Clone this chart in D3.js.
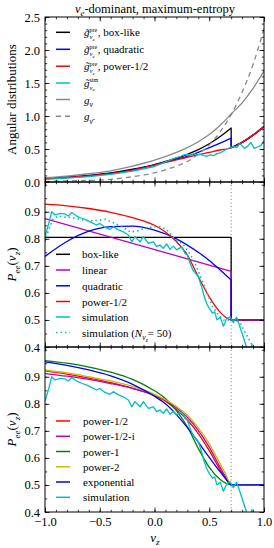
<!DOCTYPE html>
<html>
<head>
<meta charset="utf-8">
<script src="https://cdn.jsdelivr.net/npm/d3@7"></script>
<style>
  body { margin: 0; background: #fff; }
  svg { display: block; }
  text { font-family: "Liberation Serif", "DejaVu Serif", serif; fill: #000; }
</style>
</head>
<body>
<div id="chart"></div>
<script>
// ---- tick values ----
const xMajor = [-1.0, -0.5, 0.0, 0.5, 1.0];
const xMinor = d3.range(-10, 11).map(i => i / 10);
const angMajor = [0.0, 0.5, 1.0, 1.5, 2.0, 2.5];
const angMinor = d3.range(0, 26).map(i => i / 10);
const peeMajor = [0.4, 0.5, 0.6, 0.7, 0.8, 0.9];
const peeMinor = d3.range(8, 21).map(i => i / 20);

// ---- panel 1: angular distributions ----
const vAng   = [-1.0, -0.8, -0.6, -0.4, -0.2, 0.0, 0.2, 0.3, 0.4, 0.5, 0.6, 0.7, 0.8, 0.9, 1.0];
const gNu    = [0.065, 0.09, 0.125, 0.17, 0.24, 0.33, 0.45, 0.52, 0.61, 0.72, 0.86, 1.03, 1.2, 1.42, 1.68];
const gNuBar = [0.01, 0.015, 0.025, 0.04, 0.08, 0.14, 0.24, 0.31, 0.42, 0.56, 0.76, 1.02, 1.36, 1.78, 2.32];
const preP12 = [0.05, 0.068, 0.093, 0.128, 0.18, 0.255, 0.335, 0.375, 0.415, 0.45, 0.485, 0.515, 0.6, 0.71, 0.84];
const vBox   = [-1.0, -0.8, -0.6, -0.4, -0.2, 0.0, 0.2, 0.3, 0.4, 0.5, 0.6, 0.7, 0.7, 0.8, 0.9, 1.0];
const preBox = [0.052, 0.072, 0.1, 0.137, 0.193, 0.265, 0.36, 0.42, 0.49, 0.58, 0.69, 0.82, 0.52, 0.6, 0.71, 0.84];
const preQuad = [0.05, 0.07, 0.095, 0.13, 0.185, 0.26, 0.345, 0.39, 0.45, 0.52, 0.59, 0.665, 0.52, 0.6, 0.71, 0.84];
const vSimAng = [-1.0, -0.8, -0.6, -0.4, -0.2, 0.0, 0.08, 0.16, 0.2, 0.24, 0.27, 0.3, 0.33, 0.36, 0.39, 0.42,
                 0.45, 0.48, 0.51, 0.54, 0.57, 0.6, 0.63, 0.66, 0.69, 0.72, 0.75, 0.78, 0.8, 0.82, 0.85, 0.88,
                 0.91, 0.94, 0.97, 1.0];
const simAng  = [0.04, 0.058, 0.08, 0.115, 0.165, 0.235, 0.29, 0.345, 0.37, 0.39, 0.41, 0.42, 0.4, 0.43, 0.41, 0.42,
                 0.4, 0.39, 0.41, 0.4, 0.43, 0.44, 0.47, 0.5, 0.52, 0.54, 0.52, 0.58, 0.55, 0.51, 0.54, 0.6,
                 0.51, 0.53, 0.55, 0.62];

// ---- panel 2 / 3: survival probability ----
const crossV = [0.7, 0.7];
const vLin = [-1.0, 0.7, 0.7, 1.0];
const pLinear = [0.875, 0.68, 0.5, 0.5];
const vBoxP = [-1.0, 0.7, 0.7, 1.0];
const pBox = [0.805, 0.805, 0.5, 0.5];
const vQuad = [-1.0, -0.8, -0.6, -0.4, -0.2, 0.0, 0.2, 0.4, 0.5, 0.6, 0.7, 0.7, 1.0];
const pQuad = [0.735, 0.79, 0.828, 0.845, 0.847, 0.832, 0.8, 0.75, 0.72, 0.685, 0.648, 0.5, 0.5];
const vFit = [-1.0, -0.8, -0.6, -0.4, -0.2, 0.0, 0.1, 0.2, 0.3, 0.4, 0.5, 0.6, 0.65, 0.7, 1.0];
const pP12a = [0.928, 0.922, 0.912, 0.898, 0.878, 0.85, 0.825, 0.79, 0.74, 0.66, 0.585, 0.528, 0.51, 0.5, 0.5];
const pP12  = [0.922, 0.91, 0.895, 0.878, 0.857, 0.83, 0.81, 0.778, 0.74, 0.69, 0.627, 0.556, 0.525, 0.5, 0.5];
const pP12i = [0.912, 0.902, 0.89, 0.875, 0.857, 0.832, 0.814, 0.785, 0.75, 0.702, 0.64, 0.565, 0.53, 0.5, 0.5];
const pP1   = [0.96, 0.95, 0.936, 0.917, 0.89, 0.848, 0.82, 0.775, 0.715, 0.635, 0.565, 0.52, 0.507, 0.5, 0.5];
const pP2   = [0.925, 0.914, 0.9, 0.885, 0.864, 0.835, 0.815, 0.79, 0.758, 0.712, 0.652, 0.578, 0.54, 0.5, 0.5];
const pExp  = [0.955, 0.942, 0.925, 0.903, 0.872, 0.828, 0.8, 0.76, 0.712, 0.658, 0.602, 0.548, 0.523, 0.5, 0.5];

const vSim = [-1.0, -0.985, -0.96, -0.939, -0.909, -0.863, -0.817, -0.787, -0.756, -0.711, -0.665, -0.619,
              -0.574, -0.528, -0.498, -0.452, -0.406, -0.376, -0.33, -0.285, -0.239, -0.208, -0.178, -0.132,
              -0.102, -0.056, -0.011, 0.02, 0.05, 0.08, 0.111, 0.142, 0.172, 0.202, 0.248, 0.279, 0.3, 0.32,
              0.35, 0.38, 0.4, 0.43, 0.45, 0.477, 0.5, 0.53, 0.55, 0.57, 0.6, 0.63, 0.66, 0.69, 0.72, 0.75,
              0.78, 0.81, 0.84, 0.87, 0.89, 0.9, 0.95, 1.0];
const pSim = [0.81, 0.83, 0.865, 0.9, 0.888, 0.894, 0.892, 0.884, 0.897, 0.884, 0.876, 0.869,
              0.86, 0.851, 0.857, 0.842, 0.835, 0.845, 0.833, 0.826, 0.814, 0.789, 0.808, 0.789,
              0.808, 0.783, 0.789, 0.771, 0.777, 0.765, 0.781, 0.761, 0.773, 0.759, 0.77, 0.746, 0.74, 0.715,
              0.685, 0.67, 0.66, 0.623, 0.592, 0.56, 0.543, 0.525, 0.53, 0.5, 0.51, 0.477, 0.505, 0.512, 0.49, 0.51,
              0.475, 0.438, 0.4, 0.36, 0.41, 0.38, 0.3, 0.3];
const vSim50 = [-1.0, -0.97, -0.93, -0.88, -0.82, -0.75, -0.68, -0.6, -0.52, -0.45, -0.38, -0.3, -0.22, -0.15,
                -0.08, 0.0, 0.06, 0.12, 0.18, 0.23, 0.28, 0.33, 0.38, 0.43, 0.48, 0.53, 0.58, 0.63, 0.68,
                0.73, 0.78, 0.82, 0.86, 0.9];
const pSim50 = [0.79, 0.83, 0.87, 0.885, 0.88, 0.878, 0.872, 0.866, 0.868, 0.872, 0.86, 0.845, 0.825, 0.83,
                0.84, 0.845, 0.845, 0.83, 0.8, 0.79, 0.77, 0.74, 0.7, 0.65, 0.6, 0.55, 0.52, 0.5, 0.5,
                0.5, 0.49, 0.46, 0.43, 0.4];

// ---- layout ----
const width = 274, height = 548;
const margin = {left: 45, right: 10};
const panels = [{top: 17, bottom: 182}, {top: 182, bottom: 347}, {top: 347, bottom: 512}];
const serif = '"Liberation Serif", "DejaVu Serif", serif';

const svg = d3.select('#chart').append('svg')
  .attr('width', width).attr('height', height);

const xscale = d3.scaleLinear().domain([-1, 1]).range([margin.left, width - margin.right]);
const yAng = d3.scaleLinear().domain([0, 2.5]).range([panels[0].bottom, panels[0].top]);
const yP2 = d3.scaleLinear().domain([0.4, 1.01]).range([panels[1].bottom, panels[1].top]);
const yP3 = d3.scaleLinear().domain([0.4, 1.01]).range([panels[2].bottom, panels[2].top]);

const zip = (xs, ys) => xs.map((x, i) => [x, ys[i]]);

// split into runs of increasing x, smooth each run, join with straight segments
function drawLine(g, y, xs, ys, color, opts = {}) {
  const pts = zip(xs, ys);
  const runs = [[pts[0]]];
  for (let i = 1; i < pts.length; i++) {
    if (pts[i][0] <= pts[i - 1][0]) runs.push([pts[i]]);
    else runs[runs.length - 1].push(pts[i]);
  }
  const line = d3.line().x(d => xscale(d[0])).y(d => y(d[1]))
    .curve(opts.linear ? d3.curveLinear : d3.curveMonotoneX);
  const d = runs.map((r, i) => {
    let s = r.length > 1 ? line(r) : 'M' + xscale(r[0][0]) + ',' + y(r[0][1]);
    return i ? 'L' + s.slice(1) : s;
  }).join('');
  return g.append('path').attr('d', d)
    .attr('fill', 'none').attr('stroke', color)
    .attr('stroke-width', opts.width || 1.3)
    .attr('stroke-dasharray', opts.dash || null)
    .attr('stroke-linejoin', 'round');
}

// rich text: italic parts, subscripts, stacked super/sub
function rich(g, x, y, parts, fs) {
  let cx = x;
  function put(p, px, py, s) {
    const t = g.append('text').attr('x', px).attr('y', py)
      .style('font-family', serif)
      .style('font-size', s + 'px').style('font-style', p.it ? 'italic' : 'normal');
    t.append('tspan').text(p.t);
    if (p.sub2) t.append('tspan').attr('dy', s * 0.25).style('font-size', (s * 0.7) + 'px')
      .style('font-style', 'italic').text(p.sub2);
    return t.node().getComputedTextLength();
  }
  parts.forEach(p => {
    if (p.stack) {
      const a = put(p.stack[0], cx, y - fs * 0.42, fs * 0.55);
      const b = put(p.stack[1], cx, y + fs * 0.25, fs * 0.6);
      cx += Math.max(a, b) + 0.5;
    } else if (p.sub) {
      cx += put(p, cx, y + fs * 0.3, fs * 0.7);
    } else {
      cx += put(p, cx, y, fs);
    }
  });
  return cx - x;
}

function frame(i, y, majorY, minorY, showX) {
  const p = panels[i];
  const g = svg.append('g');
  const fmt = d3.format('.1f');
  const none = () => '';
  const x0 = margin.left, x1 = width - margin.right;
  const axes = [
    [() => d3.axisBottom(xscale), `translate(0,${p.bottom})`, xMinor, xMajor, showX ? fmt : none, 5.5],
    [() => d3.axisTop(xscale), `translate(0,${p.top})`, xMinor, xMajor, none, 5],
    [() => d3.axisLeft(y), `translate(${x0},0)`, minorY, majorY, fmt, 5],
    [() => d3.axisRight(y), `translate(${x1},0)`, minorY, majorY, none, 5]
  ];
  axes.forEach(([mkAxis, tr, mn, mj, tf, pad]) => {
    const gMin = g.append('g').attr('transform', tr)
      .call(mkAxis().tickValues(mn).tickSize(-2.2).tickFormat(none));
    const gMaj = g.append('g').attr('transform', tr)
      .call(mkAxis().tickValues(mj).tickSize(-4.5).tickPadding(pad).tickFormat(tf));
    [gMin, gMaj].forEach(a => {
      a.attr('font-family', null);
      a.select('.domain').remove();
      a.selectAll('line').attr('stroke', '#000').attr('stroke-width', 0.8);
      a.selectAll('text').style('font-size', '12.5px').attr('fill', '#000')
        .style('font-family', serif);
    });
  });
  g.append('rect').attr('x', x0).attr('y', p.top).attr('width', x1 - x0).attr('height', p.bottom - p.top)
    .attr('fill', 'none').attr('stroke', '#000').attr('stroke-width', 1);
}

function clipped(i, id) {
  const p = panels[i];
  svg.append('clipPath').attr('id', id).append('rect')
    .attr('x', margin.left).attr('y', p.top)
    .attr('width', width - margin.left - margin.right).attr('height', p.bottom - p.top);
  return svg.append('g').attr('clip-path', `url(#${id})`);
}

function legendRow(g, yc, color, dash, parts, tx) {
  g.append('line').attr('x1', 56).attr('x2', 70).attr('y1', yc).attr('y2', yc)
    .attr('stroke', color).attr('stroke-width', 1.5).attr('stroke-dasharray', dash || null);
  rich(g, tx, yc + 4, parts, 11);
}

const C = {black: '#000000', blue: '#0000ff', red: '#ff0000', cyan: '#00bfbf', mag: '#bf00bf',
           green: '#008000', yellow: '#bfbf00', gray: '#888888'};

// ---- panel 1 ----
const g1 = clipped(0, 'c1');
drawLine(g1, yAng, vBox, preBox, C.black);
drawLine(g1, yAng, vBox, preQuad, C.blue);
drawLine(g1, yAng, vAng, preP12, C.red);
drawLine(g1, yAng, vSimAng, simAng, C.cyan, {linear: true});
drawLine(g1, yAng, vAng, gNu, C.gray);
drawLine(g1, yAng, vAng, gNuBar, C.gray, {dash: '5,4'});
frame(0, yAng, angMajor, angMinor, false);

const gt = '\u0067\u0303';
const preSub = {stack: [{t: 'pre'}, {t: '\u03bd', it: true, sub2: 'e'}]};
const L1 = svg.append('g');
legendRow(L1, 32.3, C.black, null, [{t: gt, it: true}, preSub, {t: ', box-like'}], 84);
legendRow(L1, 49.3, C.blue, null, [{t: gt, it: true}, preSub, {t: ', quadratic'}], 84);
legendRow(L1, 66.2, C.red, null, [{t: gt, it: true}, preSub, {t: ', power-1/2'}], 84);
legendRow(L1, 83, C.cyan, null, [{t: gt, it: true}, {stack: [{t: 'sim'}, {t: '\u03bd', it: true, sub2: 'e'}]}], 84);
legendRow(L1, 99.5, C.gray, null, [{t: 'g', it: true}, {t: '\u03bd', it: true, sub: true}], 84);
legendRow(L1, 116.2, C.gray, '5,4', [{t: 'g', it: true}, {t: '\u03bd\u0304', it: true, sub: true}], 84);

// ---- panel 2 ----
const g2 = clipped(1, 'c2');
g2.append('path').attr('d', d3.line().x(d => xscale(d[0])).y(d => yP2(d[1]))(zip(crossV, yP2.domain())))
  .attr('stroke', '#555').attr('stroke-width', 0.8).attr('stroke-dasharray', '1,2.5');
drawLine(g2, yP2, vBoxP, pBox, C.black, {linear: true});
drawLine(g2, yP2, vLin, pLinear, C.mag, {linear: true});
drawLine(g2, yP2, vQuad, pQuad, C.blue);
drawLine(g2, yP2, vFit, pP12a, C.red);
drawLine(g2, yP2, vSim, pSim, C.cyan, {linear: true});
drawLine(g2, yP2, vSim50, pSim50, C.cyan, {linear: true, dash: '1.5,3', width: 1.6});
frame(1, yP2, peeMajor, peeMinor, false);

const L2 = svg.append('g');
legendRow(L2, 254.3, C.black, null, [{t: 'box-like'}], 82);
legendRow(L2, 270, C.mag, null, [{t: 'linear'}], 82);
legendRow(L2, 285.8, C.blue, null, [{t: 'quadratic'}], 82);
legendRow(L2, 301.5, C.red, null, [{t: 'power-1/2'}], 82);
legendRow(L2, 317, C.cyan, null, [{t: 'simulation'}], 82);
legendRow(L2, 332.5, C.cyan, '1.5,3', [{t: 'simulation ('}, {t: 'N', it: true},
  {t: 'v', it: true, sub: true, sub2: 'z'}, {t: ' = 50)'}], 82);

// ---- panel 3 ----
const g3 = clipped(2, 'c3');
g3.append('path').attr('d', d3.line().x(d => xscale(d[0])).y(d => yP3(d[1]))(zip(crossV, yP3.domain())))
  .attr('stroke', '#555').attr('stroke-width', 0.8).attr('stroke-dasharray', '1,2.5');
drawLine(g3, yP3, vFit, pP12, C.red);
drawLine(g3, yP3, vFit, pP12i, C.mag);
drawLine(g3, yP3, vFit, pP1, C.green);
drawLine(g3, yP3, vFit, pP2, C.yellow);
drawLine(g3, yP3, vFit, pExp, C.blue);
drawLine(g3, yP3, vSim, pSim, C.cyan, {linear: true});
frame(2, yP3, peeMajor, peeMinor, true);

const L3 = svg.append('g');
legendRow(L3, 421, C.red, null, [{t: 'power-1/2'}], 83);
legendRow(L3, 436.3, C.mag, null, [{t: 'power-1/2-i'}], 83);
legendRow(L3, 451.5, C.green, null, [{t: 'power-1'}], 83);
legendRow(L3, 466.8, C.yellow, null, [{t: 'power-2'}], 83);
legendRow(L3, 482, C.blue, null, [{t: 'exponential'}], 83);
legendRow(L3, 497.3, C.cyan, null, [{t: 'simulation'}], 83);

// ---- titles and axis labels ----
function centered(x, y, parts, fs, rotate) {
  const g = svg.append('g');
  const inner = g.append('g');
  const w = rich(inner, 0, 0, parts, fs);
  inner.attr('transform', `translate(${-w / 2},0)`);
  g.attr('transform', `translate(${x},${y})` + (rotate ? ' rotate(-90)' : ''));
}
centered(155, 12.5, [{t: '\u03bd', it: true}, {t: 'e', sub: true, it: true}, {t: '-dominant, maximum-entropy'}], 12.5);
centered(16, 99.5, [{t: 'Angular distributions'}], 13, true);
const peeLabel = [{t: 'P', it: true}, {t: 'ee', it: true, sub: true}, {t: '('}, {t: 'v', it: true},
                  {t: 'z', it: true, sub: true}, {t: ')'}];
centered(16, 264.5, peeLabel, 13, true);
centered(16, 429.5, peeLabel, 13, true);
centered(155, 541.5, [{t: 'v', it: true}, {t: 'z', it: true, sub: true}], 13);
</script>
</body>
</html>
